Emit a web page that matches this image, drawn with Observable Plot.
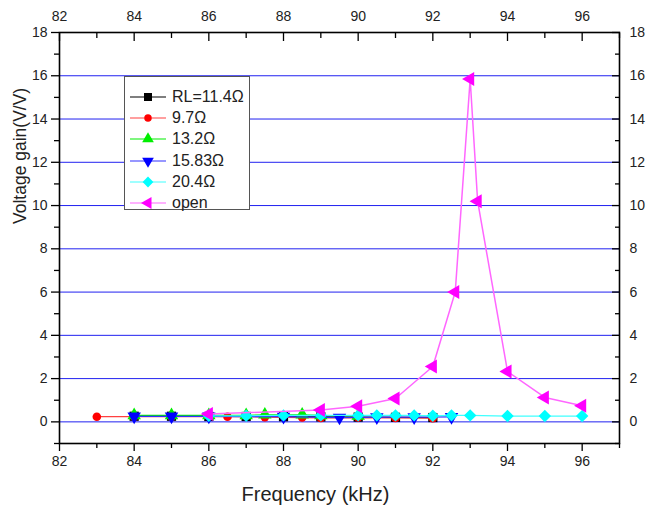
<!DOCTYPE html>
<html><head><meta charset="utf-8">
<script src="https://cdn.jsdelivr.net/npm/d3@7"></script>
<script src="https://cdn.jsdelivr.net/npm/@observablehq/plot@0.6"></script>
<style>
body{margin:0;background:#fff;font-family:"Liberation Sans",Arial,sans-serif;}
#wrap{position:relative;width:647px;height:507px;}
#legend{position:absolute;left:124px;top:76px;width:126px;height:134px;border:1px solid #555;background:#fff;box-sizing:border-box;padding-top:9px;}
.row{display:flex;align-items:center;height:21.3px;font-size:16px;color:#222;}
.row svg{margin-left:5px;margin-right:6px;}
</style></head><body><div id="wrap"></div>
<script>
// ---- data ----
const seriesNames = ["RL=11.4Ω", "9.7Ω", "13.2Ω", "15.83Ω", "20.4Ω", "open"];
const freqRL114 = [84, 85, 86, 87, 88, 89, 90, 91, 92];
const gainRL114 = [0.26, 0.26, 0.25, 0.25, 0.24, 0.23, 0.22, 0.21, 0.2];
const freqRL97 = [83, 84, 85, 86.5, 87.5, 88.5, 89, 90, 91, 92];
const gainRL97 = [0.24, 0.24, 0.24, 0.24, 0.22, 0.2, 0.18, 0.2, 0.18, 0.17];
const freqRL132 = [84, 85, 86, 87, 87.5, 88.5, 89, 90];
const gainRL132 = [0.3, 0.3, 0.3, 0.3, 0.33, 0.33, 0.3, 0.28];
const freqRL1583 = [84, 85, 86, 88, 89.5, 90.5, 91.5, 92.5];
const gainRL1583 = [0.25, 0.25, 0.25, 0.24, 0.2, 0.22, 0.22, 0.23];
const freqRL204 = [86, 87, 88, 89, 90, 90.5, 91, 91.5, 92, 92.5, 93, 94, 95, 96];
const gainRL204 = [0.28, 0.28, 0.3, 0.3, 0.3, 0.3, 0.3, 0.3, 0.28, 0.3, 0.3, 0.27, 0.27, 0.27];
const freqOpen = [86, 89, 90, 91, 92, 92.6, 93, 93.2, 94, 95, 96];
const gainOpen = [0.36, 0.55, 0.72, 1.08, 2.56, 6.0, 15.85, 10.2, 2.33, 1.13, 0.75];
const xMajorTicks = [82, 84, 86, 88, 90, 92, 94, 96];
const xMinorTicks = [83, 85, 87, 89, 91, 93, 95, 97];
const yMajorTicks = [0, 2, 4, 6, 8, 10, 12, 14, 16, 18];
const yMinorTicks = [-1, 1, 3, 5, 7, 9, 11, 13, 15, 17];
const gridY = [0, 2, 4, 6, 8, 10, 12, 14, 16];
const xTitle = ["Frequency (kHz)"];
const yTitle = ["Voltage gain(V/V)"];

// ---- symbols ----
const triDown = {draw(ctx, size){const R=Math.sqrt(size/1.299);const c=R*Math.cos(Math.PI/6);ctx.moveTo(0,R);ctx.lineTo(c,-R/2);ctx.lineTo(-c,-R/2);ctx.closePath();}};
const triUp = {draw(ctx, size){const R=Math.sqrt(size/1.299);const c=R*Math.cos(Math.PI/6);ctx.moveTo(0,-R);ctx.lineTo(c,R/2);ctx.lineTo(-c,R/2);ctx.closePath();}};
const triLeft = {draw(ctx, size){const R=Math.sqrt(size/1.299);const c=R*Math.cos(Math.PI/6);ctx.moveTo(-R,0);ctx.lineTo(R/2,-c);ctx.lineTo(R/2,c);ctx.closePath();}};

const styles = [
  {color:"#000000", line:"#000000", sym:d3.symbolSquare, r:5.2},
  {color:"#ff0000", line:"#ff4040", sym:d3.symbolCircle, r:4.3},
  {color:"#00ee00", line:"#00ee00", sym:triUp, r:5},
  {color:"#0000ff", line:"#3030ff", sym:triDown, r:5},
  {color:"#00ffff", line:"#40ffff", sym:d3.symbolDiamond2, r:5.6},
  {color:"#ff00ff", line:"#ff66ff", sym:triLeft, r:5.2}
];
const freqs = [freqRL114, freqRL97, freqRL132, freqRL1583, freqRL204, freqOpen];
const gains = [gainRL114, gainRL97, gainRL132, gainRL1583, gainRL204, gainOpen];

const marks = [Plot.ruleY(gridY, {stroke:"#2020f0", strokeWidth:1})];
seriesNames.forEach((name, i) => {
  const data = freqs[i].map((f, j) => ({f, g: gains[i][j], name}));
  const st = styles[i];
  marks.push(Plot.line(data, {x:"f", y:"g", stroke:st.line, strokeWidth: i === 5 ? 1.5 : 1.2}));
  marks.push(Plot.dot(data, {x:"f", y:"g", symbol:st.sym, r:st.r, fill:st.color, stroke:"none"}));
});
const tickStyle = {stroke:"#000", strokeWidth:1.3};
marks.push(
  Plot.frame({stroke:"#000", strokeWidth:1.6}),
  Plot.axisX(xMajorTicks, {anchor:"bottom", tickSize:8, tickPadding:5, label:null, fontSize:14, ...tickStyle}),
  Plot.axisX(xMinorTicks, {anchor:"bottom", tickSize:5, text:null, label:null, ...tickStyle}),
  Plot.axisX(xMajorTicks, {anchor:"top", tickSize:0, tickPadding:12, label:null, fontSize:14}),
  Plot.axisX(xMajorTicks, {anchor:"top", tickSize:-8, text:null, label:null, ...tickStyle}),
  Plot.axisX(xMinorTicks, {anchor:"top", tickSize:-5, text:null, label:null, ...tickStyle}),
  Plot.axisY(yMajorTicks, {anchor:"left", tickSize:8, tickPadding:4, label:null, fontSize:14, ...tickStyle}),
  Plot.axisY(yMinorTicks, {anchor:"left", tickSize:5, text:null, label:null, ...tickStyle}),
  Plot.axisY(yMajorTicks, {anchor:"right", tickSize:0, tickPadding:10, label:null, fontSize:14}),
  Plot.axisY(yMajorTicks, {anchor:"right", tickSize:-8, text:null, label:null, ...tickStyle}),
  Plot.axisY(yMinorTicks, {anchor:"right", tickSize:-5, text:null, label:null, ...tickStyle}),
  Plot.text(xTitle, {text:d=>d, frameAnchor:"bottom", dx:-24, dy:51, fontSize:20, fill:"#222", lineAnchor:"middle"}),
  Plot.text(yTitle, {text:d=>d, frameAnchor:"left", dx:-39, dy:-14, rotate:-90, fontSize:17.5, fill:"#222", lineAnchor:"middle"})
);

const chart = Plot.plot({
  width:647, height:507,
  marginLeft:59, marginRight:28, marginTop:32, marginBottom:64,
  x:{domain:[82, 97]},
  y:{domain:[-1, 18]},
  style:{fontFamily:"'Liberation Sans', Arial, sans-serif", fontSize:"14px", color:"#222", background:"#fff"},
  marks
});
const wrap = document.getElementById("wrap");
wrap.appendChild(chart);

// ---- legend ----
const legend = document.createElement("div");
legend.id = "legend";
seriesNames.forEach((name, i) => {
  const st = styles[i];
  const row = document.createElement("div");
  row.className = "row";
  const svg = d3.create("svg").attr("width", 36).attr("height", 14);
  svg.append("line").attr("x1", 0).attr("x2", 36).attr("y1", 7).attr("y2", 7).attr("stroke", st.line).attr("stroke-width", 1.2);
  svg.append("path").attr("d", d3.symbol(st.sym, Math.PI * st.r * st.r * 0.75)()).attr("transform", "translate(18,7)").attr("fill", st.color);
  row.appendChild(svg.node());
  const span = document.createElement("span");
  span.textContent = name;
  row.appendChild(span);
  legend.appendChild(row);
});
wrap.appendChild(legend);
</script>
</body></html>
